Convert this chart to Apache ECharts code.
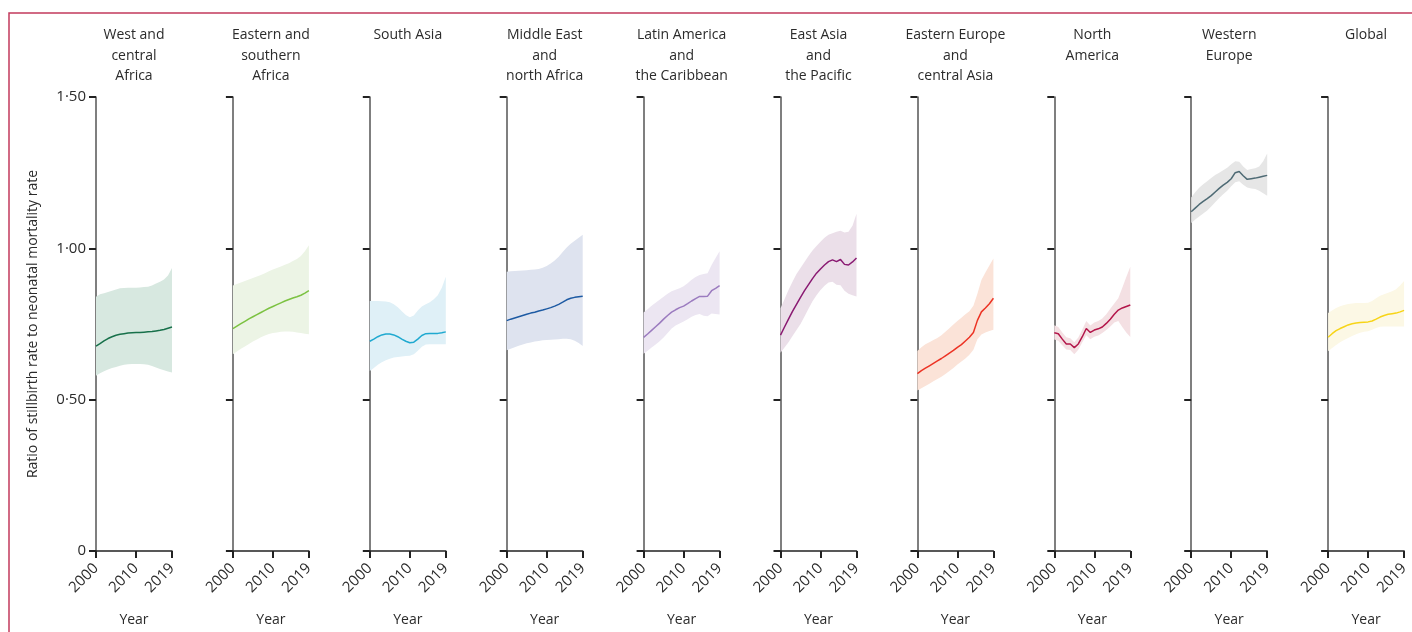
<!DOCTYPE html>
<html>
<head>
<meta charset="utf-8">
<script src="https://cdn.jsdelivr.net/npm/echarts@6/dist/echarts.min.js"></script>
<style>
html,body{margin:0;padding:0;background:#fff;}
#chart{width:1412px;height:632px;}
</style>
</head>
<body>
<div id="chart"></div>
<script>
// ---------- DATA ----------
const years = ['2000','2001','2002','2003','2004','2005','2006','2007','2008','2009',
               '2010','2011','2012','2013','2014','2015','2016','2017','2018','2019'];
const xTickLabels = ['2000','2010','2019'];
const yTickValues = [0, 0.5, 1.0, 1.5];

const regionNames = [
  'West and\ncentral\nAfrica',
  'Eastern and\nsouthern\nAfrica',
  'South Asia',
  'Middle East\nand\nnorth Africa',
  'Latin America\nand\nthe Caribbean',
  'East Asia\nand\nthe Pacific',
  'Eastern Europe\nand\ncentral Asia',
  'North\nAmerica',
  'Western\nEurope',
  'Global'
];

const meanWCA  = [0.677,0.685,0.694,0.702,0.708,0.713,0.716,0.718,0.720,0.721,0.722,0.722,0.723,0.724,0.725,0.727,0.729,0.732,0.736,0.740];
const upperWCA = [0.840,0.848,0.852,0.856,0.860,0.864,0.868,0.869,0.870,0.870,0.870,0.871,0.872,0.873,0.877,0.884,0.890,0.897,0.910,0.935];
const lowerWCA = [0.579,0.587,0.594,0.600,0.605,0.608,0.612,0.615,0.617,0.618,0.618,0.618,0.617,0.615,0.611,0.606,0.601,0.597,0.593,0.590];

const meanESA  = [0.735,0.743,0.751,0.759,0.767,0.774,0.781,0.788,0.795,0.802,0.808,0.814,0.820,0.826,0.831,0.836,0.840,0.845,0.852,0.860];
const upperESA = [0.877,0.882,0.887,0.892,0.897,0.902,0.907,0.912,0.918,0.924,0.930,0.935,0.940,0.946,0.951,0.958,0.965,0.975,0.990,1.010];
const lowerESA = [0.650,0.659,0.668,0.676,0.684,0.692,0.699,0.706,0.712,0.717,0.720,0.722,0.724,0.725,0.725,0.724,0.722,0.720,0.718,0.716];

const meanSA  = [0.693,0.700,0.708,0.714,0.717,0.717,0.714,0.708,0.700,0.693,0.688,0.690,0.700,0.712,0.718,0.719,0.719,0.719,0.721,0.724];
const upperSA = [0.826,0.826,0.826,0.825,0.824,0.822,0.815,0.805,0.792,0.780,0.772,0.778,0.795,0.808,0.815,0.822,0.832,0.845,0.870,0.906];
const lowerSA = [0.595,0.605,0.615,0.624,0.630,0.635,0.639,0.641,0.643,0.644,0.645,0.650,0.662,0.675,0.682,0.683,0.683,0.683,0.683,0.683];

const meanMENA  = [0.761,0.766,0.770,0.774,0.778,0.782,0.786,0.789,0.793,0.796,0.800,0.804,0.809,0.815,0.822,0.830,0.835,0.838,0.840,0.842];
const upperMENA = [0.923,0.924,0.925,0.926,0.927,0.928,0.929,0.930,0.932,0.936,0.942,0.950,0.960,0.972,0.988,1.003,1.015,1.025,1.035,1.045];
const lowerMENA = [0.663,0.668,0.673,0.678,0.682,0.686,0.689,0.692,0.694,0.696,0.697,0.698,0.699,0.700,0.701,0.701,0.700,0.695,0.687,0.677];

const meanLAC  = [0.706,0.717,0.729,0.741,0.753,0.766,0.778,0.789,0.797,0.804,0.809,0.817,0.826,0.834,0.841,0.841,0.842,0.860,0.868,0.877];
const upperLAC = [0.788,0.799,0.810,0.820,0.830,0.840,0.850,0.858,0.863,0.868,0.875,0.885,0.896,0.905,0.912,0.915,0.918,0.945,0.968,0.990];
const lowerLAC = [0.652,0.662,0.672,0.682,0.693,0.705,0.720,0.735,0.745,0.752,0.758,0.766,0.774,0.780,0.783,0.777,0.776,0.785,0.783,0.781];

const meanEAP  = [0.713,0.740,0.766,0.792,0.815,0.838,0.860,0.880,0.900,0.918,0.932,0.945,0.956,0.962,0.956,0.963,0.947,0.945,0.955,0.968];
const upperEAP = [0.802,0.832,0.862,0.890,0.915,0.935,0.955,0.975,0.993,1.008,1.022,1.035,1.045,1.050,1.055,1.058,1.052,1.055,1.075,1.114];
const lowerEAP = [0.655,0.672,0.690,0.710,0.730,0.750,0.775,0.800,0.825,0.845,0.862,0.876,0.887,0.890,0.880,0.878,0.860,0.850,0.845,0.841];

const meanEECA  = [0.586,0.596,0.604,0.612,0.620,0.628,0.636,0.645,0.654,0.663,0.673,0.682,0.694,0.706,0.722,0.762,0.790,0.803,0.817,0.835];
const upperEECA = [0.661,0.673,0.683,0.690,0.697,0.704,0.713,0.724,0.736,0.748,0.760,0.771,0.782,0.792,0.810,0.850,0.895,0.920,0.943,0.966];
const lowerEECA = [0.530,0.538,0.545,0.553,0.561,0.568,0.576,0.585,0.595,0.605,0.616,0.626,0.636,0.648,0.665,0.700,0.715,0.722,0.727,0.731];

const meanNA  = [0.721,0.718,0.700,0.684,0.684,0.672,0.684,0.708,0.735,0.722,0.730,0.734,0.740,0.752,0.766,0.782,0.796,0.803,0.808,0.813];
const upperNA = [0.746,0.740,0.722,0.706,0.703,0.690,0.705,0.732,0.760,0.745,0.755,0.760,0.768,0.782,0.800,0.818,0.835,0.870,0.905,0.939];
const lowerNA = [0.699,0.695,0.680,0.666,0.664,0.650,0.665,0.690,0.713,0.700,0.708,0.712,0.720,0.730,0.742,0.755,0.760,0.740,0.722,0.707];

const meanWE  = [1.121,1.133,1.145,1.155,1.164,1.174,1.186,1.198,1.209,1.218,1.230,1.250,1.254,1.240,1.228,1.230,1.232,1.235,1.238,1.241];
const upperWE = [1.168,1.185,1.200,1.212,1.222,1.232,1.242,1.250,1.258,1.266,1.278,1.288,1.286,1.270,1.259,1.262,1.265,1.270,1.288,1.313];
const lowerWE = [1.084,1.095,1.105,1.115,1.125,1.138,1.152,1.166,1.179,1.190,1.205,1.218,1.222,1.210,1.201,1.198,1.196,1.190,1.182,1.174];

const meanGL  = [0.706,0.718,0.728,0.735,0.741,0.747,0.751,0.753,0.755,0.756,0.757,0.760,0.766,0.773,0.778,0.782,0.784,0.786,0.790,0.795];
const upperGL = [0.786,0.795,0.803,0.809,0.813,0.816,0.818,0.819,0.819,0.819,0.820,0.826,0.835,0.843,0.848,0.853,0.858,0.865,0.877,0.892];
const lowerGL = [0.660,0.671,0.681,0.690,0.697,0.704,0.710,0.716,0.721,0.724,0.726,0.731,0.737,0.741,0.742,0.742,0.742,0.742,0.742,0.742];

const means  = [meanWCA, meanESA, meanSA, meanMENA, meanLAC, meanEAP, meanEECA, meanNA, meanWE, meanGL];
const uppers = [upperWCA, upperESA, upperSA, upperMENA, upperLAC, upperEAP, upperEECA, upperNA, upperWE, upperGL];
const lowers = [lowerWCA, lowerESA, lowerSA, lowerMENA, lowerLAC, lowerEAP, lowerEECA, lowerNA, lowerWE, lowerGL];

const lineColors = ['#17704a','#7cc242','#1fa9d0','#1d5aa3','#9b7bbf','#8a1a72','#ec3324','#b3164a','#4e6a74','#f7d417'];
const bandColors = ['#d7e8e0','#ecf4e5','#dff0f7','#dee3ef','#ece6f2','#ebdfe9','#fbe3d8','#f4e0e3','#e6e6e6','#fcf8e5'];

const yAxisTitle = 'Ratio of stillbirth rate to neonatal mortality rate';
const xAxisTitle = 'Year';

// ---------- CHART ----------
const FONT = '"Open Sans", "Noto Sans", sans-serif';
const TXT = '#2b2b2b';
const left0 = 96, step = 136.9, plotW = 76, plotTop = 97, plotH = 458;

const grids = [], xAxes = [], yAxes = [], series = [], titles = [];
const showIdx = (i) => i === 0 || i === 10 || i === 19;

for (let i = 0; i < 10; i++) {
  const l = left0 + i * step;
  grids.push({ left: l, top: plotTop, width: plotW, height: plotH, containLabel: false });
  titles.push({
    text: regionNames[i], padding: 0,
    left: l + plotW / 2, top: 25, textAlign: 'center',
    textStyle: { fontFamily: FONT, fontSize: 14, fontWeight: 'normal', color: TXT, lineHeight: 20.5 }
  });
  xAxes.push({
    gridIndex: i, type: 'category', data: years, boundaryGap: false,
    name: xAxisTitle, nameLocation: 'middle', nameGap: 62,
    nameTextStyle: { fontFamily: FONT, fontSize: 14, color: TXT },
    axisLine: { lineStyle: { color: '#222', width: 1.5 } },
    axisTick: { show: true, interval: (idx) => showIdx(idx), length: 7, lineStyle: { color: '#222', width: 2 } },
    axisLabel: {
      interval: (idx) => showIdx(idx), rotate: 45, margin: 15,
      fontFamily: FONT, fontSize: 15, color: TXT,
      formatter: (v) => (xTickLabels.indexOf(v) >= 0 ? v : '')
    },
    splitLine: { show: false }
  });
  yAxes.push({
    gridIndex: i, type: 'value', min: 0, max: 1.5, interval: 0.5,
    name: i === 0 ? yAxisTitle : '', nameLocation: 'middle', nameGap: 56, nameRotate: 90,
    nameTextStyle: { fontFamily: FONT, fontSize: 14, color: TXT },
    axisLine: { show: true, lineStyle: { color: '#555', width: 1.5 } },
    axisTick: { show: true, length: 7, lineStyle: { color: '#222', width: 2 } },
    axisLabel: {
      show: i === 0, margin: 10, fontFamily: FONT, fontSize: 15, color: TXT,
      formatter: (v) => (v === 0 ? '0' : v.toFixed(2).replace('.', '\u00B7'))
    },
    splitLine: { show: false }
  });
  series.push({
    type: 'line', xAxisIndex: i, yAxisIndex: i, stack: 'band' + i,
    data: lowers[i], symbol: 'none', silent: true,
    lineStyle: { opacity: 0 }, z: 1
  });
  series.push({
    type: 'line', xAxisIndex: i, yAxisIndex: i, stack: 'band' + i,
    data: uppers[i].map((u, k) => +(u - lowers[i][k]).toFixed(4)), symbol: 'none', silent: true,
    lineStyle: { opacity: 0 }, areaStyle: { color: bandColors[i], opacity: 1 }, z: 1
  });
  series.push({
    type: 'line', xAxisIndex: i, yAxisIndex: i,
    data: means[i], symbol: 'none', silent: true,
    lineStyle: { color: lineColors[i], width: 1.5 }, z: 3
  });
}

const chart = echarts.init(document.getElementById('chart'), null, { renderer: 'canvas' });
chart.setOption({
  animation: false,
  backgroundColor: '#ffffff',
  title: titles,
  grid: grids,
  xAxis: xAxes,
  yAxis: yAxes,
  series: series,
  graphic: [{
    type: 'polyline',
    shape: { points: [[9, 632], [9, 13], [1412, 13]] },
    style: { stroke: '#c23a5c', lineWidth: 1.5, fill: null }
  }]
});
</script>
</body>
</html>
